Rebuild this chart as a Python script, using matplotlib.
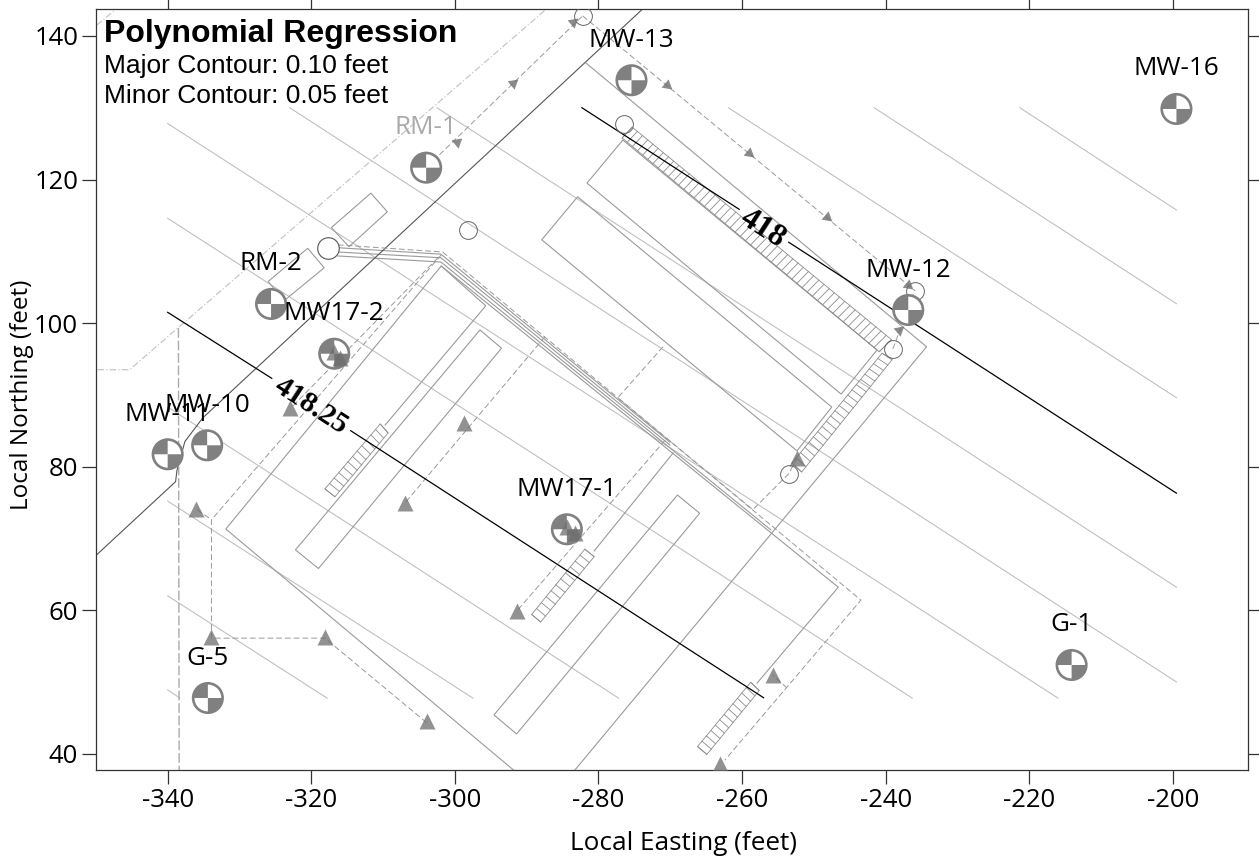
import numpy as np
import matplotlib
matplotlib.use("Agg")
import matplotlib.pyplot as plt
from matplotlib.patches import Wedge, Circle, Polygon

# wells
well_names = ["RM-1", "RM-2", "MW17-2", "MW-10", "MW-11", "G-5", "MW17-1", "MW-12", "MW-13", "MW-16", "G-1"]
well_x = [-304.0, -325.6, -316.8, -334.5, -340.0, -334.4, -284.4, -236.85, -275.4, -199.5, -214.1]
well_y = [121.65, 102.66, 95.73, 82.97, 81.72, 47.76, 71.27, 101.82, 133.83, 129.83, 52.36]

# contours, major
major_418_25 = [[(-340, 101.5), (-325.5, 92.3)], [(-314.5, 85.0), (-257, 47.8)]]
major_418 = [[(-282.3, 130), (-260.4, 115.85)], [(-253.5, 111.26), (-199.5, 76.3)]]

# contours, minor
minor_left_y = [127.8, 114.6, 88.3, 75.2, 62.0, 48.9]
minor_bottom_x = [-216, -236.3, -277.2, -297.5, -317.8, -338.3]
minor_top_x = [-323, -302.5, -261.9, -241.6, -221.3]
minor_right_y = [50.0, 63.2, 89.6, 102.7, 115.75]

# site lines
property_line = [(-349.9, 67.7), (-338.9, 77.9), (-338.7, 79.5), (-337.6, 83.5), (-335.1, 86.8), (-273.8, 143.8)]
fence = [(-349.8, 93.5), (-345.3, 93.5), (-287.2, 143.8)]
fence_corner = [(-349.9, 141.5), (-347.1, 143.8)]
fence_vert = [(-338.5, 99.3), (-338.4, 37.7)]

building_lines = [
    [(-281.7, 136.2), (-234.3, 96.7), (-283.3, 37.7)],
    [(-291.8, 37.7), (-331.9, 71.3), (-301.9, 107.95), (-295.7, 102.4), (-309.7, 85.8)],
    [(-301.9, 107.95), (-246.6, 63.2), (-257.9, 49.85)],
    [(-269.6, 81.9), (-280.6, 68.24)],
    [(-316.3, 110.5), (-301.94, 109.6), (-270.04, 83.4)],
    [(-316.3, 109.9), (-301.94, 109.1), (-270.04, 83.0)],
    [(-316.3, 109.35), (-301.94, 108.5), (-270.04, 82.6), (-256, 71.2)],
]
rect_a = [(-317.2, 113.3), (-311.7, 118.1), (-309.4, 115.5), (-314.75, 110.64)]
rect_b = [(-320.5, 110.42), (-318.2, 107.7), (-323.8, 103.1), (-326.0, 105.8)]
rect_c = [(-322.2, 68.4), (-296.5, 99.04), (-293.5, 96.5), (-319.0, 65.8)]
rect_d = [(-294.55, 45.4), (-269.0, 76.04), (-265.9, 73.5), (-291.4, 42.75)]
rect_r1 = [(-276.6, 125.5), (-281.6, 119.5), (-246.2, 90.1), (-241.2, 96.25)]
rect_r2 = [(-282.9, 117.6), (-247.5, 88.3), (-252.35, 82.2), (-287.9, 111.6)]

# hatched strips: corner a, b, c, d and number of cells
strip_1 = [(-310.4, 85.94), (-309.3, 84.7), (-316.7, 75.8), (-318.1, 76.9)]
strip_2 = [(-281.9, 68.5), (-280.6, 67.45), (-288.05, 58.35), (-289.3, 59.4)]
strip_3 = [(-258.8, 49.95), (-257.6, 48.8), (-264.9, 39.9), (-266.2, 41.0)]
strip_4 = [(-240.5, 95.8), (-239.1, 94.9), (-251.7, 79.25), (-253.05, 80.5)]
strip_5 = [(-275.3, 127.3), (-276.7, 125.8), (-240.9, 96.0), (-239.2, 97.7)]
strip_cells = [12, 11, 12, 21, 50]

# dashed trenches
dashed_lines = [
    [(-316.3, 110.9), (-301.7, 109.9), (-243.44, 61.4), (-262.4, 39.1)],
    [(-301.9, 109.5), (-333.9, 72.6), (-333.9, 56.1), (-318.1, 56.1), (-303.9, 44.3)],
    [(-302.35, 109.1), (-322.8, 88.2)],
    [(-335.9, 74.0), (-333.9, 72.6)],
    [(-287.45, 98.1), (-306.95, 74.93)],
    [(-271.0, 96.7), (-277.3, 89.6), (-258.5, 74.0), (-253.5, 79.0), (-252.35, 81.2)],
    [(-270.7, 83.7), (-291.35, 59.9)],
    [(-282.2, 142.8), (-235.9, 104.5)],
    [(-303.9, 121.75), (-282.2, 142.8)],
    [(-239.0, 96.4), (-236.0, 104.4)],
    [(-253.75, 49.15), (-255.74, 51.0)],
]

# open circles
big_circle_x = [-317.7]
big_circle_y = [110.4]
small_circle_x = [-282.1, -276.5, -298.2, -253.4, -238.94, -235.9]
small_circle_y = [142.8, 127.7, 113.0, 78.93, 96.35, 104.5]

# triangles
tri_x = [-322.9, -298.7, -306.95, -336.0, -333.9, -318.1, -303.9, -291.3, -255.74, -263.1, -316.8, -316.0, -284.4, -283.3, -252.4]
tri_y = [88.1, 86.04, 74.9, 74.1, 56.2, 56.2, 44.5, 59.93, 51.0, 38.6, 96.0, 95.2, 71.6, 70.75, 81.2]
arrow_se_x = [-270.5, -259.0, -248.2, -236.9]
arrow_se_y = [133.17, 123.66, 114.8, 105.3]
arrow_ne_x = [-299.7, -291.9, -283.55, -238.15]
arrow_ne_y = [125.2, 133.45, 141.95, 99.0]

line_grey = "#9a9a9a"
dash_grey = "#999999"
minor_grey = "#c0c0c0"
well_grey = "#808080"
sans = "Open Sans"

fig = plt.figure(figsize=(12.59, 8.59), dpi=100)
ax = fig.add_axes([96.3 / 1259, 89 / 859, 1152 / 1259, 761.3 / 859])

for y0, x1 in zip(minor_left_y, minor_bottom_x):
    ax.plot([-340, x1], [y0, 47.75], color=minor_grey, lw=0.8, zorder=1)
for x0, y1 in zip(minor_top_x, minor_right_y):
    ax.plot([x0, -199.5], [130, y1], color=minor_grey, lw=0.8, zorder=1)

for seg in major_418_25 + major_418:
    xs, ys = zip(*seg)
    ax.plot(xs, ys, color="black", lw=0.9, zorder=3)

for line in building_lines:
    xs, ys = zip(*line)
    ax.plot(xs, ys, color=line_grey, lw=0.8, zorder=2)
for rect in [rect_a, rect_b, rect_c, rect_d, rect_r1, rect_r2]:
    ax.add_patch(Polygon(rect, closed=True, fill=False, edgecolor=line_grey, lw=0.8, zorder=2))

xs, ys = zip(*property_line)
ax.plot(xs, ys, color="#555555", lw=0.8, zorder=2)
for line in [fence, fence_corner]:
    xs, ys = zip(*line)
    ax.plot(xs, ys, color="#c0c0c0", lw=0.8, dashes=(6, 2, 1, 2), zorder=2)
xs, ys = zip(*fence_vert)
ax.plot(xs, ys, color="#aaaaaa", lw=1.0, dashes=(7, 2), zorder=2)

for line in dashed_lines:
    xs, ys = zip(*line)
    ax.plot(xs, ys, color=dash_grey, lw=0.7, dashes=(6, 3), zorder=2)

# hatched strips
for strip, cells in zip([strip_1, strip_2, strip_3, strip_4, strip_5], strip_cells):
    a, b, c, d = np.array(strip)
    ax.add_patch(Polygon(strip, closed=True, fill=False, edgecolor="#8c8c8c", lw=0.6, zorder=2))
    for k in np.linspace(0, 1, cells + 1):
        p = a + (d - a) * k
        q = b + (c - b) * k
        ax.plot([p[0], q[0]], [p[1], q[1]], color="#8c8c8c", lw=0.6, zorder=2)

ax.plot(big_circle_x, big_circle_y, "o", ms=15.5, mfc="white", mec="#555555", mew=0.8, zorder=4)
ax.plot(small_circle_x, small_circle_y, "o", ms=12.8, mfc="none", mec="#666666", mew=0.7, zorder=4)

# well symbols
for wx, wy in zip(well_x, well_y):
    ax.add_patch(Circle((wx, wy), 2.05, facecolor="white", edgecolor=well_grey, lw=1.9, zorder=5))
    ax.add_patch(Wedge((wx, wy), 2.05, 90, 180, facecolor=well_grey, edgecolor="none", zorder=5))
    ax.add_patch(Wedge((wx, wy), 2.05, 270, 360, facecolor=well_grey, edgecolor="none", zorder=5))

ax.plot(tri_x, tri_y, "^", ms=11, mfc="#6e6e6e", mec="none", alpha=0.75, zorder=6)
ax.plot(arrow_se_x, arrow_se_y, marker=(3, 0, -130), ls="none", ms=9, mfc="#6e6e6e", mec="none", alpha=0.8, zorder=6)
ax.plot(arrow_ne_x, arrow_ne_y, marker=(3, 0, -50), ls="none", ms=9, mfc="#6e6e6e", mec="none", alpha=0.8, zorder=6)

for name, wx, wy in zip(well_names, well_x, well_y):
    col = "#aaaaaa" if name == "RM-1" else "black"
    ax.annotate(name, (wx, wy), xytext=(0, 28.8), textcoords="offset points", ha="center", va="center",
                fontsize=18.8, family=sans, color=col, zorder=7)

ax.text(-320.07, 88.5, "418.25", rotation=-33, ha="center", va="center", fontsize=21.5,
        family="Liberation Serif", weight="bold", zorder=7, rotation_mode="anchor")
ax.text(-257.05, 113.2, "418", rotation=-33, ha="center", va="center", fontsize=23,
        family="Liberation Serif", weight="bold", zorder=7, rotation_mode="anchor")

fig.text(104 / 1259, 1 - 34 / 859, "Polynomial Regression", fontsize=23, weight="bold",
         family="Liberation Sans", va="center")
fig.text(104 / 1259, 1 - 66 / 859, "Major Contour: 0.10 feet", fontsize=19, family="Liberation Sans", va="center")
fig.text(104 / 1259, 1 - 96 / 859, "Minor Contour: 0.05 feet", fontsize=19, family="Liberation Sans", va="center")

ax.set_xlim(-349.94, -189.49)
ax.set_ylim(37.73, 143.8)
ax.set_xticks(np.arange(-340, -199, 20))
ax.set_yticks(np.arange(40, 141, 20))
ax.set_xticklabels([str(v) for v in range(-340, -199, 20)])
ax.tick_params(axis="both", which="major", length=10, width=0.9, color="#333333", top=True, right=True,
               labelsize=18.5, pad=3)
for lab in ax.get_xticklabels() + ax.get_yticklabels():
    lab.set_family(sans)
for sp in ax.spines.values():
    sp.set_linewidth(0.9)
    sp.set_color("#333333")

fig.text(683 / 1259, 1 - 843 / 859, "Local Easting (feet)", fontsize=18.8, family=sans, ha="center", va="center")
fig.text(22 / 1259, 1 - 395 / 859, "Local Northing (feet)", fontsize=17.5, family=sans, ha="center", va="center",
         rotation=90)

fig.savefig("out.png", dpi=100)
